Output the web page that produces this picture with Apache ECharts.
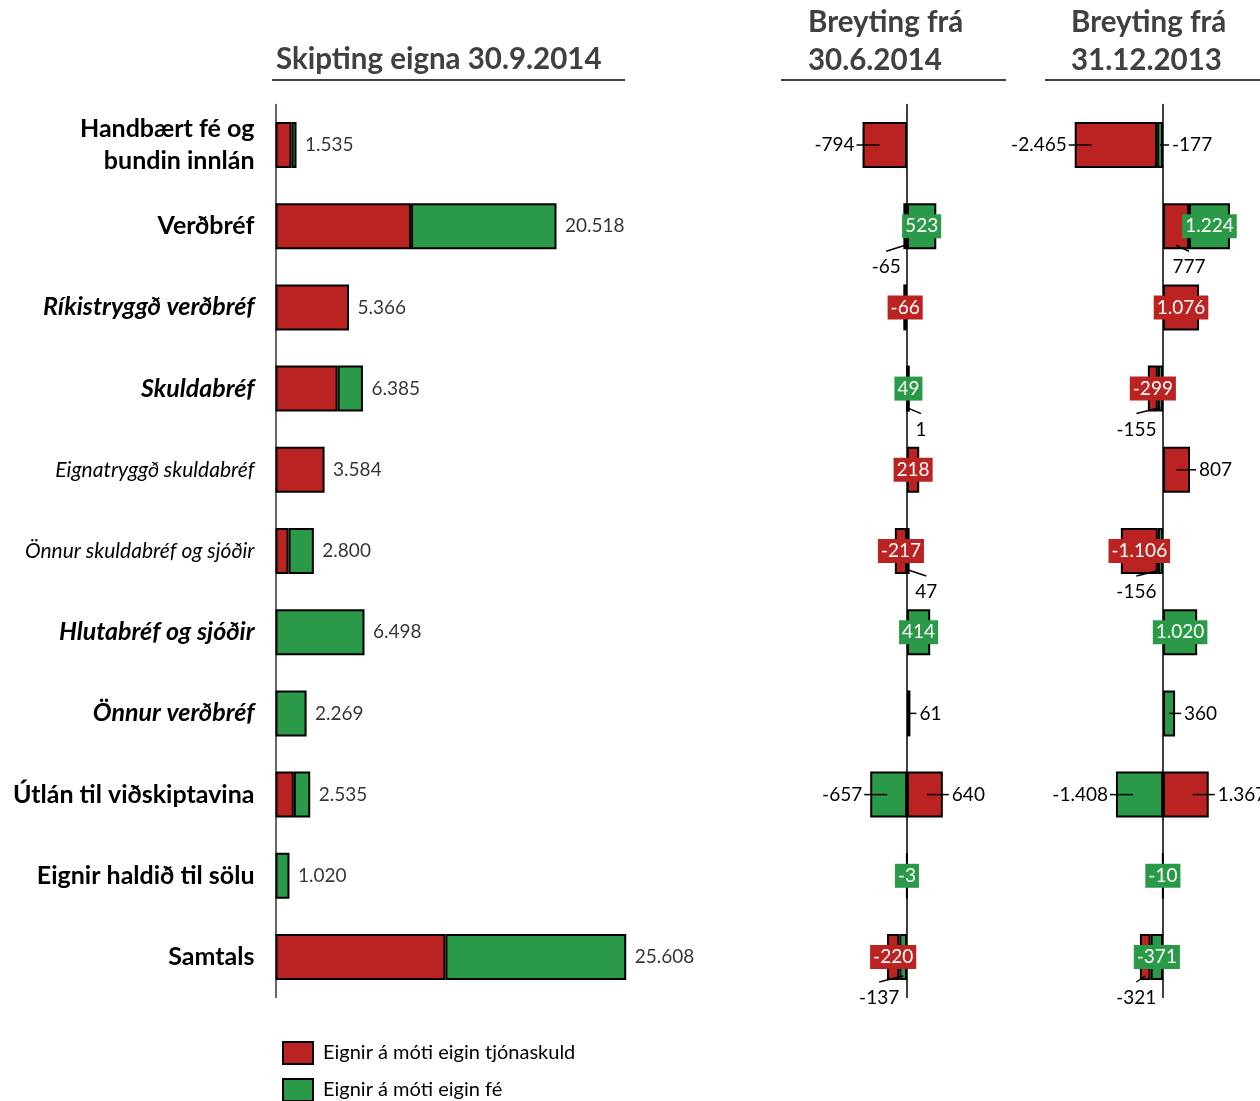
<!DOCTYPE html>
<html>
<head>
<meta charset="utf-8">
<title>Skipting eigna</title>
<script src="https://cdn.jsdelivr.net/npm/echarts@6/dist/echarts.min.js"></script>
<style>
    html, body { margin: 0; padding: 0; background: #fff; }
    #chart { width: 1260px; height: 1101px; }
</style>
</head>
<body>
<div id="chart"></div>
<script>
// flokkar (rows, top to bottom)
var categories = ['Handbært fé og\nbundin innlán', 'Verðbréf', 'Ríkistryggð verðbréf', 'Skuldabréf',
    'Eignatryggð skuldabréf', 'Önnur skuldabréf og sjóðir', 'Hlutabréf og sjóðir', 'Önnur verðbréf',
    'Útlán til viðskiptavina', 'Eignir haldið til sölu', 'Samtals'];

// Skipting eigna 30.9.2014
var stockRed   = [1170, 9900, 5366, 4534, 3584, 950, 0, 0, 1336, 0, 12406];
var stockGreen = [365, 10618, 0, 1851, 0, 1850, 6498, 2269, 1199, 1020, 13202];

// Breyting frá 30.6.2014
var chgQRed   = [-794, -65, -66, 1, 218, -217, 0, 0, 640, 0, -220];
var chgQGreen = [0, 523, 0, 49, 0, 47, 414, 61, -657, -3, -137];

// Breyting frá 31.12.2013
var chgYRed   = [-2465, 777, 1076, -299, 807, -1106, 0, 0, 1367, 0, -321];
var chgYGreen = [-177, 1224, 0, -155, 0, -156, 1020, 360, -1408, -10, -371];

// label styles / placement (not data)
var catStyle = ['b', 'b', 'bi', 'bi', 'i', 'i', 'bi', 'bi', 'b', 'b', 'b'];
var placeQRed   = ['left', 'below:-19', 'box', 'below:14', 'box', 'box', '', '', 'right', '', 'box'];
var placeQGreen = ['', 'box', '', 'box', '', 'below:18', 'box', 'right', 'left', 'box', 'below:-24'];
var placeYRed   = ['left', 'below:13', 'box', 'box', 'right', 'box', '', '', 'right', '', 'below:-9'];
var placeYGreen = ['right', 'box', '', 'below:-24', '', 'below:-24', 'box', 'right', 'left', 'box', 'box'];

var FONT = 'Lato';
var RED = '#BB2222', GREEN = '#2A9A48';
var RED_NAME = 'Eignir á móti eigin tjónaskuld', GREEN_NAME = 'Eignir á móti eigin fé';

var myChart = echarts.init(document.getElementById('chart'));

// 1.535 style numbers
function fmt(v) {
    var s = Math.abs(v).toString().replace(/\B(?=(\d{3})+(?!\d))/g, '.');
    return (v < 0 ? '-' : '') + s;
}

function bar(name, color, grid, stack, data) {
    return {
        type: 'bar', name: name, xAxisIndex: grid, yAxisIndex: grid, stack: stack,
        barWidth: 46, data: data, animation: false,
        itemStyle: { color: color, borderColor: '#000', borderWidth: 2 },
        label: { fontFamily: FONT }
    };
}

// change panels: positives stack red first, negatives stack green first
function changeSeries(grid, red, green, placeRed, placeGreen) {
    function pick(arr, place, color, pos) {
        return arr.map(function (v, i) {
            if (v === 0 || (pos ? v < 0 : v > 0)) return '-';
            var d = { value: v };
            if (place[i] === 'box') {
                d.label = {
                    show: true, position: 'inside', formatter: fmt(v), backgroundColor: color,
                    color: '#fff', padding: [3, 3, 2, 3], fontSize: 19, fontFamily: FONT
                };
            }
            return d;
        });
    }
    var st = 'chg' + grid;
    return [
        bar(RED_NAME, RED, grid, st, pick(red, placeRed, RED, true)),
        bar(GREEN_NAME, GREEN, grid, st, pick(green, placeGreen, GREEN, true)),
        bar(GREEN_NAME, GREEN, grid, st, pick(green, placeGreen, GREEN, false)),
        bar(RED_NAME, RED, grid, st, pick(red, placeRed, RED, false))
    ];
}

// labels with a short leader line
function leaderSeries(grid, red, green, placeRed, placeGreen) {
    var items = [];
    red.forEach(function (r, i) {
        var g = green[i];
        var segR = r > 0 ? [0, r] : [Math.min(g, 0), Math.min(g, 0) + r];
        var segG = g > 0 ? [Math.max(r, 0), Math.max(r, 0) + g] : [0, g];
        [[r, segR, placeRed[i]], [g, segG, placeGreen[i]]].forEach(function (t) {
            if (t[0] !== 0 && t[2] && t[2] !== 'box') {
                items.push({ row: i, start: t[1][0], end: t[1][1], value: t[0], place: t[2] });
            }
        });
    });
    return {
        type: 'custom', xAxisIndex: grid, yAxisIndex: grid, z: 5, silent: true, animation: false,
        data: items.map(function (d) { return [d.start, d.end, d.row]; }),
        encode: { x: [0, 1], y: 2 },
        renderItem: function (params, api) {
            var d = items[params.dataIndex];
            var a = api.coord([d.start, d.row]), b = api.coord([d.end, d.row]);
            var xl = Math.min(a[0], b[0]), xr = Math.max(a[0], b[0]), yc = a[1], cx = (xl + xr) / 2;
            var parts = d.place.split(':'), kind = parts[0], dx = +parts[1] || 0;
            var line, tx, ty, align;
            if (kind === 'left') {
                line = [Math.min(xl + 17, cx), yc, xl - 6, yc]; tx = xl - 8; ty = yc; align = 'right';
            } else if (kind === 'right') {
                line = [Math.max(xr - 16, cx), yc, xr + 6, yc]; tx = xr + 9; ty = yc; align = 'left';
            } else {
                var bot = yc + 23;
                line = [cx, bot - 4, cx + dx, bot + 2]; tx = cx + dx; ty = yc + 41; align = 'center';
            }
            return {
                type: 'group', children: [
                    { type: 'line', shape: { x1: line[0], y1: line[1], x2: line[2], y2: line[3] },
                      style: { stroke: '#000', lineWidth: 1.5 } },
                    { type: 'text', x: tx, y: ty,
                      style: { text: fmt(d.value), fill: '#000', fontSize: 19, fontFamily: FONT,
                               align: align, verticalAlign: 'middle' } }
                ]
            };
        }
    };
}

var totals = stockRed.map(function (v, i) { return v + stockGreen[i]; });

var gridTop = 104.4, gridH = 893.2;

function catAxis(grid, showLabels, lineColor) {
    return {
        type: 'category', gridIndex: grid, data: categories, inverse: true,
        axisTick: { show: false },
        axisLine: { show: true, onZero: true, lineStyle: { color: lineColor, width: 1.5 } },
        axisLabel: {
            show: showLabels, margin: 21,
            formatter: function (v, i) {
                return v.split('\n').map(function (s) { return '{' + catStyle[i] + '|' + s + '}'; }).join('\n');
            },
            rich: {
                b: { fontFamily: FONT, fontWeight: 'bold', fontSize: 25, color: '#000', lineHeight: 32 },
                bi: { fontFamily: FONT, fontWeight: 'bold', fontStyle: 'italic', fontSize: 25, color: '#000', lineHeight: 32 },
                i: { fontFamily: FONT, fontStyle: 'italic', fontSize: 21, color: '#000', lineHeight: 26 }
            }
        },
        splitLine: { show: false }
    };
}

function valAxis(grid, min, max) {
    return { type: 'value', gridIndex: grid, min: min, max: max, show: false, splitLine: { show: false } };
}

var titleStyle = { fontFamily: FONT, fontWeight: 'bold', fontSize: 29.5, color: '#404040', lineHeight: 38 };

var option = {
    animation: false,
    title: [
        { text: 'Skipting eigna 30.9.2014', left: 276, top: 40, padding: 0, textStyle: titleStyle },
        { text: 'Breyting frá\n30.6.2014', left: 808, top: 3, padding: 0, textStyle: titleStyle },
        { text: 'Breyting frá\n31.12.2013', left: 1071, top: 3, padding: 0, textStyle: titleStyle }
    ],
    graphic: [
        { type: 'line', shape: { x1: 272, y1: 80, x2: 625, y2: 80 }, style: { stroke: '#404040', lineWidth: 2 } },
        { type: 'line', shape: { x1: 781, y1: 80, x2: 1006, y2: 80 }, style: { stroke: '#404040', lineWidth: 2 } },
        { type: 'line', shape: { x1: 1045, y1: 80, x2: 1260, y2: 80 }, style: { stroke: '#404040', lineWidth: 2 } }
    ],
    legend: {
        orient: 'vertical', left: 282, top: 1041, height: 80, padding: 0,
        itemWidth: 30, itemHeight: 22, itemGap: 13,
        icon: 'rect', data: [RED_NAME, GREEN_NAME],
        textStyle: { fontFamily: FONT, fontSize: 20, color: '#000', padding: [0, 0, 0, 5] }
    },
    grid: [
        { left: 275.5, top: gridTop, width: 410.85, height: gridH },
        { left: 795, top: gridTop, width: 224, height: gridH },
        { left: 1029.3, top: gridTop, width: 230.7, height: gridH }
    ],
    xAxis: [valAxis(0, 0, 30000), valAxis(1, -2000, 2000), valAxis(2, -4000, 2900)],
    yAxis: [catAxis(0, true, '#333'), catAxis(1, false, '#000'), catAxis(2, false, '#000')],
    series: [
        bar(RED_NAME, RED, 0, 'stock', stockRed.map(function (v) { return v || '-'; })),
        bar(GREEN_NAME, GREEN, 0, 'stock', stockGreen.map(function (v) { return v || '-'; })),
        {
            type: 'scatter', xAxisIndex: 0, yAxisIndex: 0, symbolSize: 1, silent: true,
            itemStyle: { color: 'rgba(0,0,0,0)' },
            data: totals.map(function (t, i) { return [t, i]; }),
            label: {
                show: true, position: 'right', distance: 8, color: '#000', fontSize: 19, fontFamily: FONT,
                formatter: function (p) { return fmt(p.value[0]); }
            }
        }
    ].concat(
        changeSeries(1, chgQRed, chgQGreen, placeQRed, placeQGreen),
        [leaderSeries(1, chgQRed, chgQGreen, placeQRed, placeQGreen)],
        changeSeries(2, chgYRed, chgYGreen, placeYRed, placeYGreen),
        [leaderSeries(2, chgYRed, chgYGreen, placeYRed, placeYGreen)]
    )
};

myChart.setOption(option);
</script>
</body>
</html>
